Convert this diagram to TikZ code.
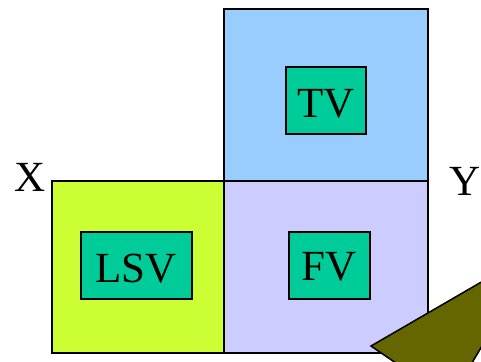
\documentclass[tikz,border=0pt]{standalone}
\usepackage{fontspec}
\setmainfont{Liberation Serif}
\definecolor{skyb}{HTML}{99CCFF}
\definecolor{limey}{HTML}{CCFF33}
\definecolor{lavd}{HTML}{CCCCFF}
\definecolor{teal2}{HTML}{00CC99}
\definecolor{olivey}{HTML}{666600}
\begin{document}
\begin{tikzpicture}[x=1pt,y=-1pt,
  face/.style={draw=black,line width=1.7pt,rectangle,inner sep=0pt},
  label box/.style={draw=black,line width=2pt,fill=teal2,rectangle,inner sep=0pt,font=\fontsize{43}{46}\selectfont,text depth=0pt},
  axis text/.style={inner sep=0pt,font=\fontsize{43}{46}\selectfont}]
\useasboundingbox (0,0) rectangle (481,361);
\clip (0,0) rectangle (481,361);
\node[face,fill=skyb,minimum width=204pt,minimum height=172pt] (top) at (326,95) {};
\node[face,fill=limey,minimum width=172pt,minimum height=172pt] (left) at (138,267) {};
\node[face,fill=lavd,minimum width=204pt,minimum height=172pt] (front) at (326,267) {};
\node[label box,minimum width=80pt,minimum height=67pt,text height=34pt] (tv) at (326,100) {TV};
\node[label box,minimum width=111pt,minimum height=67pt,text height=34pt] (lsv) at (136,265) {LSV};
\node[label box,minimum width=81pt,minimum height=67pt,text height=30pt] (fv) at (329,265) {FV};
\node[axis text] (xl) at (30,177) {X};
\node[axis text] (yl) at (465,181) {Y};
\fill[olivey,draw=black,line width=1.5pt] (371,346) -- (540,248) -- (450,400) -- cycle;
\end{tikzpicture}
\end{document}
